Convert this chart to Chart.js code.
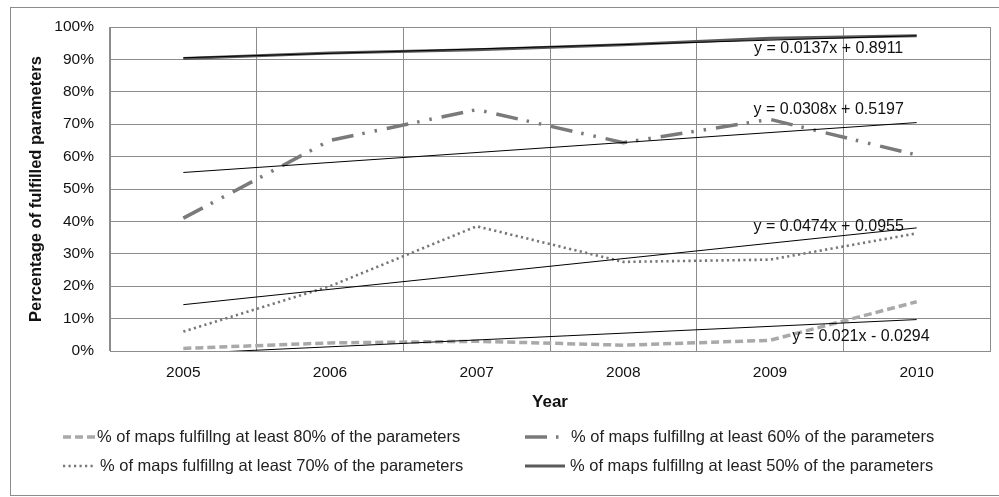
<!DOCTYPE html>
<html>
<head>
<meta charset="utf-8">
<script src="https://cdn.jsdelivr.net/npm/chart.js@4/dist/chart.umd.min.js"></script>
<style>
html, body { margin: 0; padding: 0; background: #fff; }
#wrap { width: 999px; height: 497px; }
</style>
</head>
<body>
<div id="wrap"><canvas id="chart" width="999" height="497"></canvas></div>
<script>
var years = ['2005', '2006', '2007', '2008', '2009', '2010'];

// % of maps fulfilling at least N% of the parameters
var at80 = [0.8, 2.5, 3.0, 1.8, 3.3, 15.2];
var at70 = [6.0, 20.0, 38.5, 27.5, 28.2, 36.3];
var at60 = [41.0, 65.0, 74.5, 64.3, 71.5, 60.5];
var at50 = [90.3, 92.0, 93.0, 94.5, 96.5, 97.3];

// linear trendlines, only the two ends (2005, 2010)
var trend80 = [-0.8, null, null, null, null, 9.7];
var trend70 = [14.3, null, null, null, null, 38.0];
var trend60 = [55.1, null, null, null, null, 70.5];
var trend50 = [90.5, null, null, null, null, 97.3];

var eqTexts = ['y = 0.0137x + 0.8911', 'y = 0.0308x + 0.5197', 'y = 0.0474x + 0.0955', 'y = 0.021x - 0.0294'];
var eqAt = [4.4, 4.4, 4.4, 4.62];     // category position
var eqVal = [93.2, 74.4, 38.3, 4.3];  // value position (%)

var seriesNames = [
    '% of maps fulfillng at least 80% of the parameters',
    '% of maps fulfillng at least 70% of the parameters',
    '% of maps fulfillng at least 60% of the parameters',
    '% of maps fulfillng at least 50% of the parameters'
];

var FONT = "'Liberation Sans', Arial, sans-serif";

function trendSet(values) {
    return {
        data: values,
        borderColor: '#000',
        borderWidth: 1,
        pointRadius: 0,
        spanGaps: true,
        fill: false,
        order: 0,
        isTrend: true
    };
}

var frame = {
    id: 'frame',
    beforeDraw: function(chart) {
        var ctx = chart.ctx;
        ctx.save();
        ctx.fillStyle = '#fff';
        ctx.fillRect(0, 0, chart.width, chart.height);
        ctx.strokeStyle = '#8c8c8c';
        ctx.lineWidth = 1;
        ctx.strokeRect(10.5, 7.5, 995, 488);
        ctx.restore();
    }
};

var equations = {
    id: 'equations',
    afterDatasetsDraw: function(chart) {
        var ctx = chart.ctx;
        var x = chart.scales.x, y = chart.scales.y;
        ctx.save();
        ctx.font = '16px ' + FONT;
        ctx.fillStyle = '#111';
        ctx.textAlign = 'center';
        ctx.textBaseline = 'middle';
        for (var i = 0; i < eqTexts.length; i++) {
            ctx.fillText(eqTexts[i], x.getPixelForValue(eqAt[i]), y.getPixelForValue(eqVal[i]));
        }
        ctx.restore();
    }
};

// two column legend like the original
var legendBox = {
    id: 'legendBox',
    afterDraw: function(chart) {
        var ctx = chart.ctx;
        var items = [
            { ds: 4, x: 63, y: 437, w: 32, tx: 97 },
            { ds: 6, x: 525, y: 437, w: 40, tx: 571 },
            { ds: 5, x: 63, y: 466, w: 32, tx: 100 },
            { ds: 7, x: 525, y: 466, w: 40, tx: 570 }
        ];
        ctx.save();
        items.forEach(function(it) {
            var d = chart.data.datasets[it.ds];
            ctx.beginPath();
            ctx.strokeStyle = d.borderColor;
            ctx.lineWidth = d.borderWidth;
            ctx.setLineDash(d.borderDash || []);
            ctx.moveTo(it.x, it.y);
            ctx.lineTo(it.x + it.w, it.y);
            ctx.stroke();
            ctx.setLineDash([]);
            ctx.font = '16.5px ' + FONT;
            ctx.fillStyle = '#222';
            ctx.textAlign = 'left';
            ctx.textBaseline = 'middle';
            ctx.fillText(d.label, it.tx, it.y);
        });
        ctx.restore();
    }
};

var ctx = document.getElementById('chart');

var chart = new Chart(ctx, {
    type: 'line',
    data: {
        labels: years,
        datasets: [
            trendSet(trend80),
            trendSet(trend70),
            trendSet(trend60),
            trendSet(trend50),
            {
                label: seriesNames[0],
                data: at80,
                borderColor: '#a9a9a9',
                borderWidth: 3.5,
                borderDash: [8, 4],
                pointRadius: 0,
                tension: 0,
                order: 1
            },
            {
                label: seriesNames[1],
                data: at70,
                borderColor: '#777',
                borderWidth: 2.6,
                borderDash: [2.2, 3.3],
                pointRadius: 0,
                tension: 0,
                order: 1
            },
            {
                label: seriesNames[2],
                data: at60,
                borderColor: '#7a7a7a',
                borderWidth: 3.5,
                borderDash: [22, 9, 2.5, 10, 2.5, 10],
                pointRadius: 0,
                tension: 0,
                order: 1
            },
            {
                label: seriesNames[3],
                data: at50,
                borderColor: '#5a5a5a',
                borderWidth: 3,
                pointRadius: 0,
                tension: 0,
                order: 1
            }
        ]
    },
    options: {
        responsive: false,
        animation: false,
        events: [],
        layout: { padding: { left: 10, top: 27, right: 9, bottom: 76 } },
        plugins: {
            legend: { display: false },
            tooltip: { enabled: false }
        },
        scales: {
            x: {
                offset: true,
                grid: { offset: true, color: '#8c8c8c', drawTicks: false },
                border: { color: '#8c8c8c' },
                ticks: { padding: 12, color: '#111', font: { family: FONT, size: 15.5 } },
                title: {
                    display: true,
                    text: 'Year',
                    color: '#111',
                    font: { family: FONT, size: 17, weight: 'bold' },
                    padding: { top: 0, bottom: 8 }
                },
                afterFit: function(s) { s.height = 70; }
            },
            y: {
                min: 0,
                max: 100,
                ticks: {
                    stepSize: 10,
                    padding: 16,
                    color: '#111',
                    font: { family: FONT, size: 15.5 },
                    callback: function(v) { return v + '%'; }
                },
                grid: { color: '#8c8c8c', drawTicks: false },
                border: { color: '#8c8c8c' },
                title: {
                    display: true,
                    text: 'Percentage of fulfilled parameters',
                    color: '#111',
                    font: { family: FONT, size: 16.5, weight: 'bold' },
                    padding: { top: 17, bottom: 0 }
                },
                afterFit: function(s) { s.width = 100; }
            }
        }
    },
    plugins: [frame, equations, legendBox]
});
</script>
</body>
</html>
